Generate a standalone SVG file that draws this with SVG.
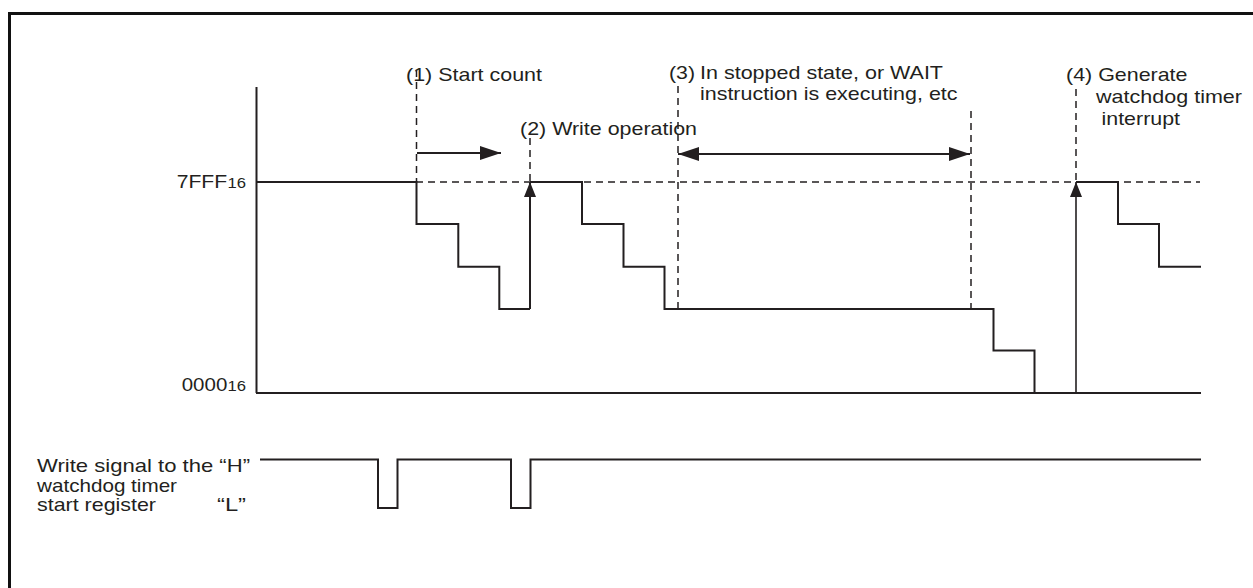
<svg xmlns="http://www.w3.org/2000/svg" width="1253" height="588" viewBox="0 0 1253 588">
<style>
  .ln{fill:none;stroke:#231f20;stroke-width:2;stroke-linejoin:miter}
  .thin{fill:none;stroke:#231f20;stroke-width:1.6}
  .dash{fill:none;stroke:#231f20;stroke-width:1.5;stroke-dasharray:7 5}
  .frame{fill:none;stroke:#111;stroke-width:3}
  text{font-family:"Liberation Sans",Arial,Helvetica,sans-serif;font-size:19px;fill:#231f20}
  .sub{font-size:14px}
</style>
<defs>
  <marker id="ah" markerUnits="userSpaceOnUse" markerWidth="22" markerHeight="14" refX="21" refY="7" orient="auto-start-reverse">
    <path d="M0 0 L21 7 L0 14 Z" fill="#231f20"/>
  </marker>
  <marker id="av" markerUnits="userSpaceOnUse" markerWidth="16" markerHeight="12" refX="15" refY="6" orient="auto">
    <path d="M0 0 L15 6 L0 12 Z" fill="#231f20"/>
  </marker>
</defs>
<rect class="frame" x="9.5" y="13.5" width="1300" height="650"/>

<g id="axes">
  <line class="ln" x1="256.5" y1="87" x2="256.5" y2="393"/>
  <line class="ln" x1="256" y1="393" x2="1201" y2="393"/>
  <text x="176.7" y="188" textLength="50.5" lengthAdjust="spacingAndGlyphs">7FFF</text>
  <text class="sub" x="227.5" y="188" textLength="18.5" lengthAdjust="spacingAndGlyphs">16</text>
  <text x="181.7" y="391" textLength="45.6" lengthAdjust="spacingAndGlyphs">0000</text>
  <text class="sub" x="227.5" y="391" textLength="18.5" lengthAdjust="spacingAndGlyphs">16</text>
</g>

<g id="guides">
  <line class="dash" x1="416" y1="182" x2="1200" y2="182"/>
  <line class="dash" x1="416.5" y1="70" x2="416.5" y2="182"/>
  <line class="dash" x1="530" y1="138" x2="530" y2="182"/>
  <line class="dash" x1="678" y1="86" x2="678" y2="309"/>
  <line class="dash" x1="971" y1="111" x2="971" y2="312"/>
  <line class="dash" x1="1076" y1="89" x2="1076" y2="182"/>
</g>

<g id="counter-waveform">
  <path class="ln" d="M256.5 182 H416.5 V224 H458.3 V266.7 H499.3 V309 H530"/>
  <path class="ln" d="M530 182 H582 V224 H623.5 V266.7 H664.5 V309 H993.5 V350.5 H1034.5 V393"/>
  <path class="ln" d="M1076 182 H1118 V224 H1159 V266.7 H1201"/>
</g>

<g id="connectors">
  <line class="ln" x1="530" y1="309" x2="530" y2="182" marker-end="url(#av)"/>
  <line class="thin" x1="1076" y1="393" x2="1076" y2="182" marker-end="url(#av)"/>
  <line class="ln" x1="417" y1="153" x2="501" y2="153" marker-end="url(#ah)"/>
  <line class="ln" x1="678" y1="154" x2="970" y2="154" marker-start="url(#ah)" marker-end="url(#ah)"/>
</g>

<g id="label-1">
  <text x="406" y="81" textLength="136" lengthAdjust="spacingAndGlyphs">(1) Start count</text>
</g>
<g id="label-2">
  <text x="520" y="135" textLength="177" lengthAdjust="spacingAndGlyphs">(2) Write operation</text>
</g>
<g id="label-3">
  <text x="669" y="79" textLength="26" lengthAdjust="spacingAndGlyphs">(3)</text>
  <text x="700" y="79" textLength="243" lengthAdjust="spacingAndGlyphs">In stopped state, or WAIT</text>
  <text x="700" y="100" textLength="257.5" lengthAdjust="spacingAndGlyphs">instruction is executing, etc</text>
</g>
<g id="label-4">
  <text x="1066" y="81" textLength="121.5" lengthAdjust="spacingAndGlyphs">(4) Generate</text>
  <text x="1096" y="103" textLength="146" lengthAdjust="spacingAndGlyphs">watchdog timer</text>
  <text x="1101.5" y="125" textLength="78.5" lengthAdjust="spacingAndGlyphs">interrupt</text>
</g>

<g id="write-signal">
  <text x="37" y="472" textLength="213" lengthAdjust="spacingAndGlyphs">Write signal to the “H”</text>
  <text x="37" y="492" textLength="140" lengthAdjust="spacingAndGlyphs">watchdog timer</text>
  <text x="37" y="511" textLength="119" lengthAdjust="spacingAndGlyphs">start register</text>
  <text x="217" y="511" textLength="29" lengthAdjust="spacingAndGlyphs">“L”</text>
  <path class="ln" d="M260 459.5 H378 V508 H397.5 V459.5 H511 V508 H530.5 V459.5 H1201"/>
</g>
</svg>
